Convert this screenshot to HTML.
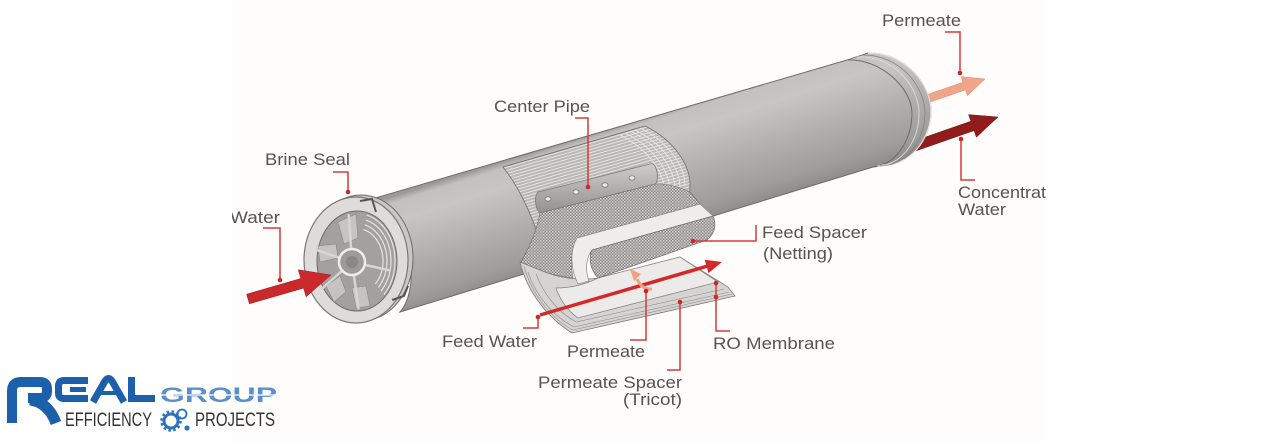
<!DOCTYPE html>
<html><head><meta charset="utf-8">
<style>
html,body{margin:0;padding:0;background:#fff;}
svg{display:block;}
text{font-family:"Liberation Sans",Arial,sans-serif;}
</style></head><body>
<svg width="1280" height="442" viewBox="0 0 1280 442" xmlns="http://www.w3.org/2000/svg">
<defs>
 <linearGradient id="body" gradientUnits="userSpaceOnUse" x1="602" y1="130" x2="640" y2="250">
  <stop offset="0" stop-color="#9c9a98"/>
  <stop offset="0.05" stop-color="#c3c1bf"/>
  <stop offset="0.2" stop-color="#c8c6c4"/>
  <stop offset="0.5" stop-color="#b3b1af"/>
  <stop offset="0.82" stop-color="#9e9c9a"/>
  <stop offset="0.96" stop-color="#8a8886"/>
  <stop offset="1" stop-color="#787674"/>
 </linearGradient>
 <linearGradient id="pipe" x1="0" y1="0" x2="0" y2="1">
  <stop offset="0" stop-color="#cfcdcb"/>
  <stop offset="1" stop-color="#949290"/>
 </linearGradient>
 <pattern id="lines" width="12" height="3" patternUnits="userSpaceOnUse" patternTransform="rotate(-16)">
  <rect width="12" height="3" fill="#b9b7b5"/>
  <rect width="12" height="1" fill="#e6e4e2"/>
 </pattern>
 <pattern id="net" width="3" height="3" patternUnits="userSpaceOnUse">
  <rect width="3" height="3" fill="#8a8886"/>
  <rect width="1.5" height="1.5" fill="#d8d6d4"/>
  <rect x="1.5" y="1.5" width="1.5" height="1.5" fill="#c9c7c5"/>
 </pattern>
 <clipPath id="dc"><rect x="232" y="0" width="814" height="442"/></clipPath>
</defs>

<g clip-path="url(#dc)">
 <rect x="232" y="0" width="814" height="442" fill="#fefdfc"/>

 <!-- outlet arrows (behind cap) -->
 <polygon points="913.7,99.2 962.9,82.3 961.0,76.6 985,79 967.4,95.6 965.5,89.9 916.3,106.8" fill="#f0a488" stroke="#d98a70" stroke-width="0.5"/>
 <polygon points="910.4,142.3 970.9,121.2 968.6,114.6 998,117 976.4,137.2 974.1,130.6 913.6,151.7" fill="#901c1c" stroke="#6e1212" stroke-width="0.5"/>

 <!-- tube body -->
 <path d="M372,199 L847,60 C880,58 912,88 912,113 C912,140 896,165 873,167 L400,312 C420,290 415,220 372,199 Z" fill="url(#body)" stroke="#6e6c6a" stroke-width="1"/>

 <!-- right end ring -->
 <path d="M847,60 L868,53 C905,52 932,85 931,113 C930,140 910,166 882,165 L873,167 C896,165 912,140 912,113 C912,88 880,58 847,60 Z" fill="url(#body)" stroke="#6e6c6a" stroke-width="0.9"/>
 <path d="M868,53 C905,52 932,85 931,113 C930,140 910,166 882,165" fill="none" stroke="#e4e2e0" stroke-width="1.2"/>
 <path d="M857,57 C894,55 919,87 919,113 C919,140 903,165 877,166" fill="none" stroke="#dedcda" stroke-width="0.9"/>
 <path d="M862,55 C899,54 925,86 925,113 C925,140 907,166 880,166" fill="none" stroke="#858381" stroke-width="0.8"/>

 <!-- cutaway roll -->
 <path d="M503,167 L645,126 C668,137 690,160 690,185 C690,196 688,203 686,208 L545,258 C538,232 526,196 503,167 Z" fill="url(#lines)" stroke="#6f6d6b" stroke-width="0.8"/>
 <g fill="none" stroke="#eceae8" stroke-width="0.8">
  <path d="M640,128 C663,139 685,162 685,186"/>
  <path d="M635,130 C658,141 680,164 680,188"/>
  <path d="M630,131 C653,142 675,165 675,190"/>
  <path d="M625,133 C648,144 670,167 670,192"/>
  <path d="M620,135 C643,146 665,169 665,194"/>
 </g>

 <!-- center pipe -->
 <path d="M538,192 L652,163.5 C658,166 659,182 655,184 L540,213 C535,209 534,196 538,192 Z" fill="url(#pipe)" stroke="#77757a" stroke-width="0.8"/>
 <g fill="#eceae8" stroke="#6f6d6b" stroke-width="0.7">
  <ellipse cx="548" cy="199" rx="3" ry="2.2"/>
  <ellipse cx="576" cy="192" rx="3" ry="2.2"/>
  <ellipse cx="605" cy="185" rx="3" ry="2.2"/>
  <ellipse cx="632" cy="178" rx="3" ry="2.2"/>
 </g>

 <!-- netting back -->
 <path d="M540,213 L655,184 C668,183 682,188 690,192 L700,204 L578,238 C571,248 570,262 573,278 C555,276 535,270 521,262 C530,246 537,230 540,213 Z" fill="url(#net)" stroke="#6f6d6b" stroke-width="0.6"/>

 <!-- sheet stack below -->
 <path d="M520,262 C527,292 548,318 572,333 L735,296 L728,287 L680,257 L598,278 C580,281 558,278 540,270 Z" fill="#d6d4d2" stroke="#7c7a78" stroke-width="0.8"/>
 <g fill="none" stroke="#8f8d8b" stroke-width="0.6">
  <path d="M528,272 C536,296 553,316 574,327 L729,292"/>
  <path d="M536,274 C544,295 558,312 576,322 L724,289"/>
  <path d="M524,266 C531,293 550,318 573,330 L732,294"/>
 </g>
 <path d="M598,278 L680,257 L718,282 L578,318 C568,311 560,300 556,288 C572,288 586,284 598,278 Z" fill="#ecebe9" stroke="#8a8886" stroke-width="0.8"/>

 <!-- white membrane sheet + front netting -->
 <path d="M577,238 L700,204 L713,216 L592,250 C586,258 585,270 589,281 L578,284 C570,268 570,250 577,238 Z" fill="#efedeb" stroke="#8a8886" stroke-width="0.7"/>
 <path d="M592,250 L713,216 C717,226 714,234 707,240 L598,278 C591,270 588,260 592,250 Z" fill="url(#net)" stroke="#6f6d6b" stroke-width="0.7"/>

 <!-- feed arrow across sheets -->
 <line x1="540" y1="315" x2="707" y2="266.2" stroke="#d22a2a" stroke-width="3.5"/>
 <polygon points="722,262 704.7,259.7 708.5,273.1" fill="#d22a2a"/>
 <path d="M652,289 Q642,290 637,279" fill="none" stroke="#f2a080" stroke-width="3"/>
 <polygon points="630,269 641,274 634,281" fill="#f2a080"/>

 <!-- left cap -->
 <ellipse cx="361" cy="258" rx="52" ry="63" fill="#c9c7c5" stroke="#6e6c6a" stroke-width="1"/>
 <ellipse cx="356" cy="260" rx="52" ry="63" fill="#dedcda" stroke="#7a7876" stroke-width="1.2"/>
 <ellipse cx="357" cy="261" rx="40" ry="50" fill="#a3a19f" stroke="#6e6c6a" stroke-width="1"/>
 <g fill="none" stroke="#e6e4e2" stroke-width="1.2">
  <path d="M366.8,215.1 A38 47.5 0 0 1 383.9,294.6"/>
  <path d="M365.8,219.9 A34 42.5 0 0 1 381.0,291.0"/>
  <path d="M364.8,224.8 A30 37.5 0 0 1 378.2,287.5"/>
  <path d="M363.7,229.6 A26 32.5 0 0 1 375.4,284.0"/>
 </g>
 <g fill="#c6c4c2" stroke="#8a8886" stroke-width="0.6">
  <polygon points="338,222 356,214 358,238 344,244"/>
  <polygon points="318,246 336,244 338,258 320,262"/>
  <polygon points="326,286 340,276 346,292 334,302"/>
  <polygon points="352,288 366,286 370,306 356,308"/>
 </g>
 <g stroke="#d8d6d4" stroke-width="2.5">
  <line x1="352" y1="262" x2="348.7" y2="214.2"/>
  <line x1="352" y1="262" x2="315.3" y2="249.6"/>
  <line x1="352" y1="262" x2="320.9" y2="289.5"/>
  <line x1="352" y1="262" x2="358.6" y2="309.3"/>
  <line x1="352" y1="262" x2="389.4" y2="270.3"/>
 </g>
 <circle cx="352" cy="262" r="13" fill="#9d9b99" stroke="#efedeb" stroke-width="2.5"/>
 <circle cx="352" cy="262" r="6" fill="#8a8886"/>
 <path d="M360,201 L372,199 L376,212" fill="none" stroke="#555" stroke-width="2"/>
 <path d="M392,300 L404,296 L408,286" fill="none" stroke="#555" stroke-width="2"/>

 <!-- left feed arrow -->
 <polygon points="246.6,294.2 300.8,278.5 298.3,269.8 331,275 306.1,296.8 303.6,288.1 249.4,303.8" fill="#c9292b" stroke="#9e1a1a" stroke-width="0.5"/>

 <!-- leaders -->
 <g fill="none" stroke="#d8393a" stroke-width="1.5">
  <path d="M263,228 H280 V280"/>
  <path d="M333,172 H348 V192"/>
  <path d="M575,118 H588 V187"/>
  <path d="M693,241 H756 V225"/>
  <path d="M538,317 V328 H523"/>
  <path d="M646,291 V340 H630"/>
  <path d="M680,302 V370 H667"/>
  <path d="M716,283 V331 H730"/>
  <path d="M945,32 H960 V73"/>
  <path d="M961,139 V180 H975"/>
 </g>
 <g fill="#c82828">
  <circle cx="280" cy="280" r="2.3"/>
  <circle cx="348" cy="192" r="2.3"/>
  <circle cx="588" cy="187" r="2.3"/>
  <circle cx="693" cy="241" r="2.3"/>
  <circle cx="538" cy="317" r="2.3"/>
  <circle cx="646" cy="291" r="2.3"/>
  <circle cx="680" cy="302" r="2.3"/>
  <circle cx="716" cy="283" r="2.3"/>
  <circle cx="716" cy="297" r="2.3"/>
  <circle cx="960" cy="73" r="2.3"/>
  <circle cx="961" cy="139" r="2.3"/>
 </g>

 <!-- labels -->
 <g fill="#585250" font-size="17">
  <text x="230" y="223" textLength="50" lengthAdjust="spacingAndGlyphs">Water</text>
  <text x="265" y="165" textLength="85" lengthAdjust="spacingAndGlyphs">Brine Seal</text>
  <text x="494" y="112" textLength="96" lengthAdjust="spacingAndGlyphs">Center Pipe</text>
  <text x="762" y="238" textLength="105" lengthAdjust="spacingAndGlyphs">Feed Spacer</text>
  <text x="763" y="259" textLength="70" lengthAdjust="spacingAndGlyphs">(Netting)</text>
  <text x="442" y="347" textLength="95" lengthAdjust="spacingAndGlyphs">Feed Water</text>
  <text x="567" y="357" textLength="78" lengthAdjust="spacingAndGlyphs">Permeate</text>
  <text x="713" y="349" textLength="122" lengthAdjust="spacingAndGlyphs">RO Membrane</text>
  <text x="538" y="388" textLength="144" lengthAdjust="spacingAndGlyphs">Permeate Spacer</text>
  <text x="623" y="405" textLength="59" lengthAdjust="spacingAndGlyphs">(Tricot)</text>
  <text x="882" y="26" textLength="79" lengthAdjust="spacingAndGlyphs">Permeate</text>
  <text x="958" y="198" textLength="98" lengthAdjust="spacingAndGlyphs">Concentrate</text>
  <text x="958" y="215" textLength="48" lengthAdjust="spacingAndGlyphs">Water</text>
 </g>
</g>

<!-- logo -->
<g fill="none" stroke="#1c5fab">
 <path d="M12,423 V391 Q12,382 21,382 H40 Q47,382 47,389 V391 Q47,398 40,398 H28" stroke-width="10"/>
 <path d="M30,400 Q48,402 56,423" stroke-width="11"/>
 <path d="M88,380.5 H64 Q58.5,380.5 58.5,386 V393 Q58.5,398.5 64,398.5 H88" stroke-width="7"/>
 <path d="M70,389.5 H86" stroke-width="5"/>
 <path d="M93,402 L105,381 Q108.5,376 112,381 L124,402" stroke-width="7"/>
 <path d="M101,393 H116" stroke-width="4"/>
 <path d="M131.5,377 V398.5 H155" stroke-width="7"/>
</g>
<text x="160" y="402" font-size="21" font-weight="bold" fill="#5b8fcb" textLength="117" lengthAdjust="spacingAndGlyphs">GROUP</text>
<line x1="160" y1="395" x2="277" y2="395" stroke="#fff" stroke-width="1.2"/>
<text x="65" y="426" font-size="19" fill="#333" textLength="87" lengthAdjust="spacingAndGlyphs">EFFICIENCY</text>
<g fill="none" stroke="#2d72bc">
 <circle cx="171" cy="421" r="7" stroke-width="3"/>
 <circle cx="171" cy="421" r="9.5" stroke-width="2.5" stroke-dasharray="2.5 2.5"/>
 <circle cx="182" cy="414" r="4.5" stroke-width="1.8"/>
</g>
<circle cx="187" cy="428" r="2.6" fill="#2d72bc"/>
<text x="195" y="426" font-size="19" fill="#333" textLength="80" lengthAdjust="spacingAndGlyphs">PROJECTS</text>
</svg>
</body></html>
